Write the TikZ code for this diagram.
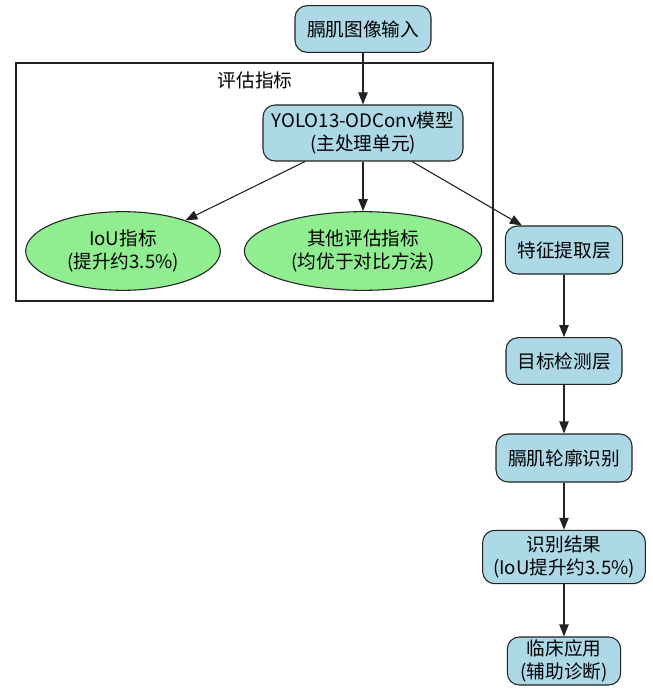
\documentclass[tikz,border=0pt]{standalone}
\usepackage{fontspec}
\setmainfont{Noto Sans CJK SC}
\usetikzlibrary{shapes.geometric,arrows.meta}
\definecolor{procblue}{HTML}{ADD8E6}
\definecolor{metricgreen}{HTML}{90EE90}
\definecolor{edgegray}{HTML}{222222}
\begin{document}
\begin{tikzpicture}[x=0.75pt,y=-0.75pt,
  font=\fontsize{14pt}{17pt}\selectfont,
  proc/.style={draw=edgegray,fill=procblue,rounded corners=9pt,align=center,inner sep=0pt,line width=0.8pt},
  metric/.style={draw=edgegray,fill=metricgreen,ellipse,align=center,inner sep=0pt,line width=0.8pt},
  flow/.style={-{Triangle[length=9pt,width=7pt]},line width=0.8pt,draw=edgegray,fill=edgegray}]
\useasboundingbox (0,0) rectangle (652,691);
% cluster
\draw [edgegray,line width=0.8pt] (16,63) rectangle (493,301);
\node (evallabel) at (255,80) {评估指标};
% nodes
\node [proc,minimum width=102pt,minimum height=35pt] (input) at (363,29) {膈肌图像输入};
\node [proc,minimum width=150pt,minimum height=42pt] (yolo) at (363,133) {YOLO13-ODConv模型\\(主处理单元)};
\node [metric,minimum width=146pt,minimum height=59pt] (iou) at (123,251) {IoU指标\\(提升约3.5\%)};
\node [metric,minimum width=178pt,minimum height=59pt] (other) at (363,251) {其他评估指标\\(均优于对比方法)};
\node [proc,minimum width=88pt,minimum height=36pt] (feat) at (564,250) {特征提取层};
\node [proc,minimum width=87pt,minimum height=35pt] (detect) at (564,361) {目标检测层};
\node [proc,minimum width=102pt,minimum height=36pt] (contour) at (564,458) {膈肌轮廓识别};
\node [proc,minimum width=122pt,minimum height=40pt] (result) at (564,557) {识别结果\\(IoU提升约3.5\%)};
\node [proc,minimum width=85pt,minimum height=36pt] (clinic) at (564,661) {临床应用\\(辅助诊断)};
% edges
\draw [flow] (input) -- (yolo);
\draw [flow] (yolo) -- (iou);
\draw [flow] (yolo) -- (other);
\draw [flow] (yolo) -- (feat);
\draw [flow] (feat) -- (detect);
\draw [flow] (detect) -- (contour);
\draw [flow] (contour) -- (result);
\draw [flow] (result) -- (clinic);
\end{tikzpicture}
\end{document}
